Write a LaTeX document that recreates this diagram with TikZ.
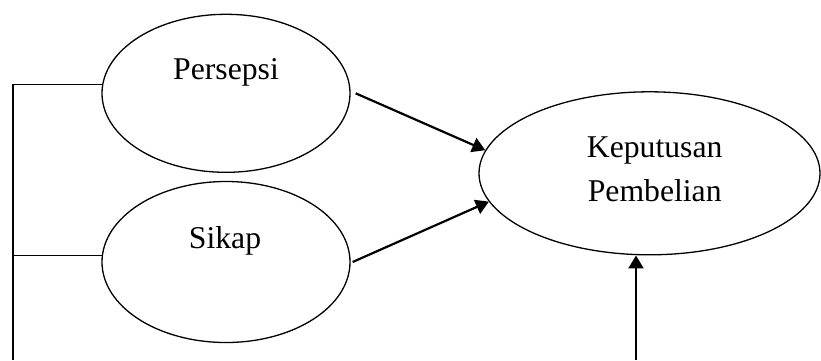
\documentclass[tikz,border=0pt]{standalone}
\usepackage{fontspec}
\setmainfont{Liberation Serif}
\usetikzlibrary{shapes.geometric,arrows.meta}
\begin{document}
\begin{tikzpicture}[x=1pt,y=-1pt,
  oval/.style={draw,ellipse,line width=1.3pt,inner sep=0pt},
  lbl/.style={anchor=base,inner sep=0pt,font=\fontsize{31.7}{44}\selectfont},
  arr/.style={line width=2.2pt,-{Triangle[length=13pt,width=15pt]}},
  conn/.style={line width=1.1pt}]
\useasboundingbox (0,0) rectangle (821,360);
\node[oval,minimum width=248pt,minimum height=158pt] (per) at (226,93.3) {};
\node[oval,minimum width=248pt,minimum height=161pt] (sik) at (226,262) {};
\node[oval,minimum width=341pt,minimum height=163pt] (kep) at (649.5,173.3) {};
\node[lbl] (tper) at (226,79) {Persepsi};
\node[lbl] (tsik) at (225,248) {Sikap};
\node[lbl] (tkep1) at (654.7,157) {Keputusan};
\node[lbl] (tkep2) at (654.7,201) {Pembelian};
\coordinate (lb) at (13,360);
\coordinate (bb) at (636,360);
\draw[arr] ([xshift=5pt]per.east) -- (kep.172.4);
\draw[arr] ([xshift=2pt]sik.east) -- (kep.190.8);
\draw[arr] (bb) -- (bb |- kep.south);
\draw[conn] (per.176) -| (lb);
\draw[conn] (sik.177.5) -- (sik.177.5 -| lb);
\end{tikzpicture}
\end{document}
